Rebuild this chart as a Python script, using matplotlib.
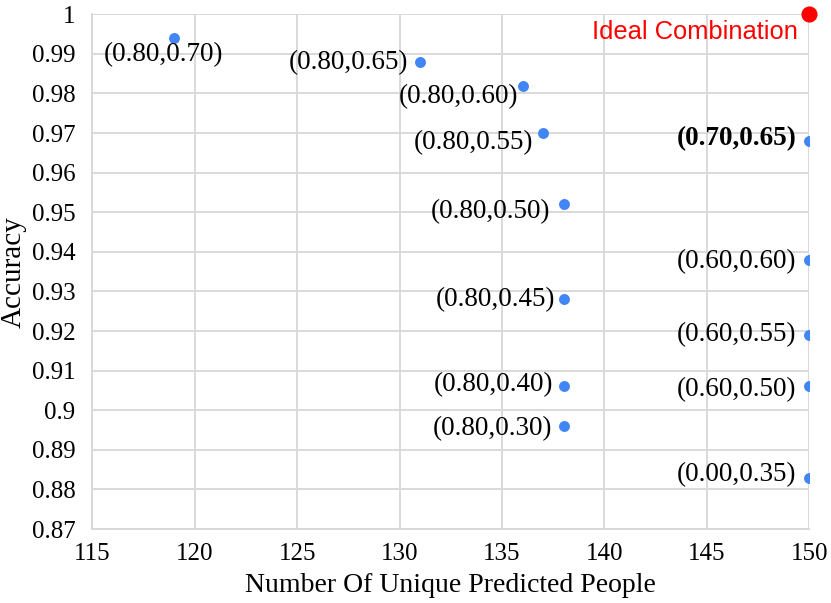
import matplotlib
matplotlib.use("Agg")
import matplotlib.pyplot as plt

# данные: число уникальных предсказанных людей и точность
people = [119, 131, 136, 137, 138, 138, 138, 138, 150, 150, 150, 150, 150]
accuracy = [0.994, 0.988, 0.982, 0.970, 0.952, 0.928, 0.906, 0.896,
            0.968, 0.938, 0.919, 0.906, 0.883]
labels = ['(0.80,0.70)', '(0.80,0.65)', '(0.80,0.60)', '(0.80,0.55)',
          '(0.80,0.50)', '(0.80,0.45)', '(0.80,0.40)', '(0.80,0.30)',
          '(0.70,0.65)', '(0.60,0.60)', '(0.60,0.55)', '(0.60,0.50)',
          '(0.00,0.35)']
ideal_x = [150]
ideal_y = [1.0]
ideal_label = 'Ideal Combination'

x_ticks = [115, 120, 125, 130, 135, 140, 145, 150]
y_ticks = [0.87, 0.88, 0.89, 0.90, 0.91, 0.92, 0.93, 0.94, 0.95, 0.96,
           0.97, 0.98, 0.99, 1.00]
y_tick_labels = ['0.87', '0.88', '0.89', '0.9', '0.91', '0.92', '0.93',
                 '0.94', '0.95', '0.96', '0.97', '0.98', '0.99', '1']

# смещения подписей в пикселях (ha, dx, dy)
label_offsets = [('center', -11, -17), ('right', -12, -1), ('right', -4, -11),
                 ('right', -10, -10), ('right', -13, -7), ('right', -8, 0),
                 ('right', -10, 2), ('right', -11, -3), ('right', -13, 2),
                 ('right', -13, -2), ('right', -13, 0), ('right', -13, -3),
                 ('right', -13, 3)]

serif = 'Liberation Serif'
grid_color = '#d9d9d9'

fig = plt.figure(figsize=(8.31, 6.03), dpi=100)
ax = fig.add_axes([0.111, 0.1227, 0.863, 0.8536])

ax.scatter(people, accuracy, s=62, color='#4285f4', zorder=3, linewidths=0)
ax.scatter(ideal_x, ideal_y, s=135, color='#ff0000', zorder=3, linewidths=0,
           clip_on=False)

for i in range(len(labels)):
    ha, dx, dy = label_offsets[i]
    weight = 'bold' if labels[i] == '(0.70,0.65)' else 'normal'
    ax.annotate(labels[i], (people[i], accuracy[i]), xytext=(dx, dy),
                textcoords='offset pixels', ha=ha, va='center',
                fontsize=19.5, family=serif, fontweight=weight, color='black')

ax.annotate(ideal_label, (ideal_x[0], ideal_y[0]), xytext=(-12, -18),
            textcoords='offset pixels', ha='right', va='center',
            fontsize=18.4, family='Liberation Sans', color='#ff0000')

ax.set_xlim(115, 150)
ax.set_ylim(0.87, 1.0)
ax.set_xticks(x_ticks)
ax.set_yticks(y_ticks)
ax.set_yticklabels(y_tick_labels)
ax.grid(True, color=grid_color, linewidth=1.4, zorder=0)
ax.set_axisbelow(True)

for lab in ax.get_xticklabels() + ax.get_yticklabels():
    lab.set_family(serif)
    lab.set_fontsize(18)
ax.tick_params(axis='x', length=0, pad=10)
ax.tick_params(axis='y', length=0, pad=12)

for side in ['top', 'right', 'bottom', 'left']:
    ax.spines[side].set_color(grid_color)
    ax.spines[side].set_linewidth(1.4)
ax.spines['top'].set_visible(False)
ax.spines['right'].set_visible(False)

ax.set_xlabel('Number Of Unique Predicted People', family=serif, fontsize=20,
              labelpad=6)
ax.set_ylabel('Accuracy', family=serif, fontsize=21, labelpad=4)

plt.savefig('out.png', dpi=100)
plt.close('all')
